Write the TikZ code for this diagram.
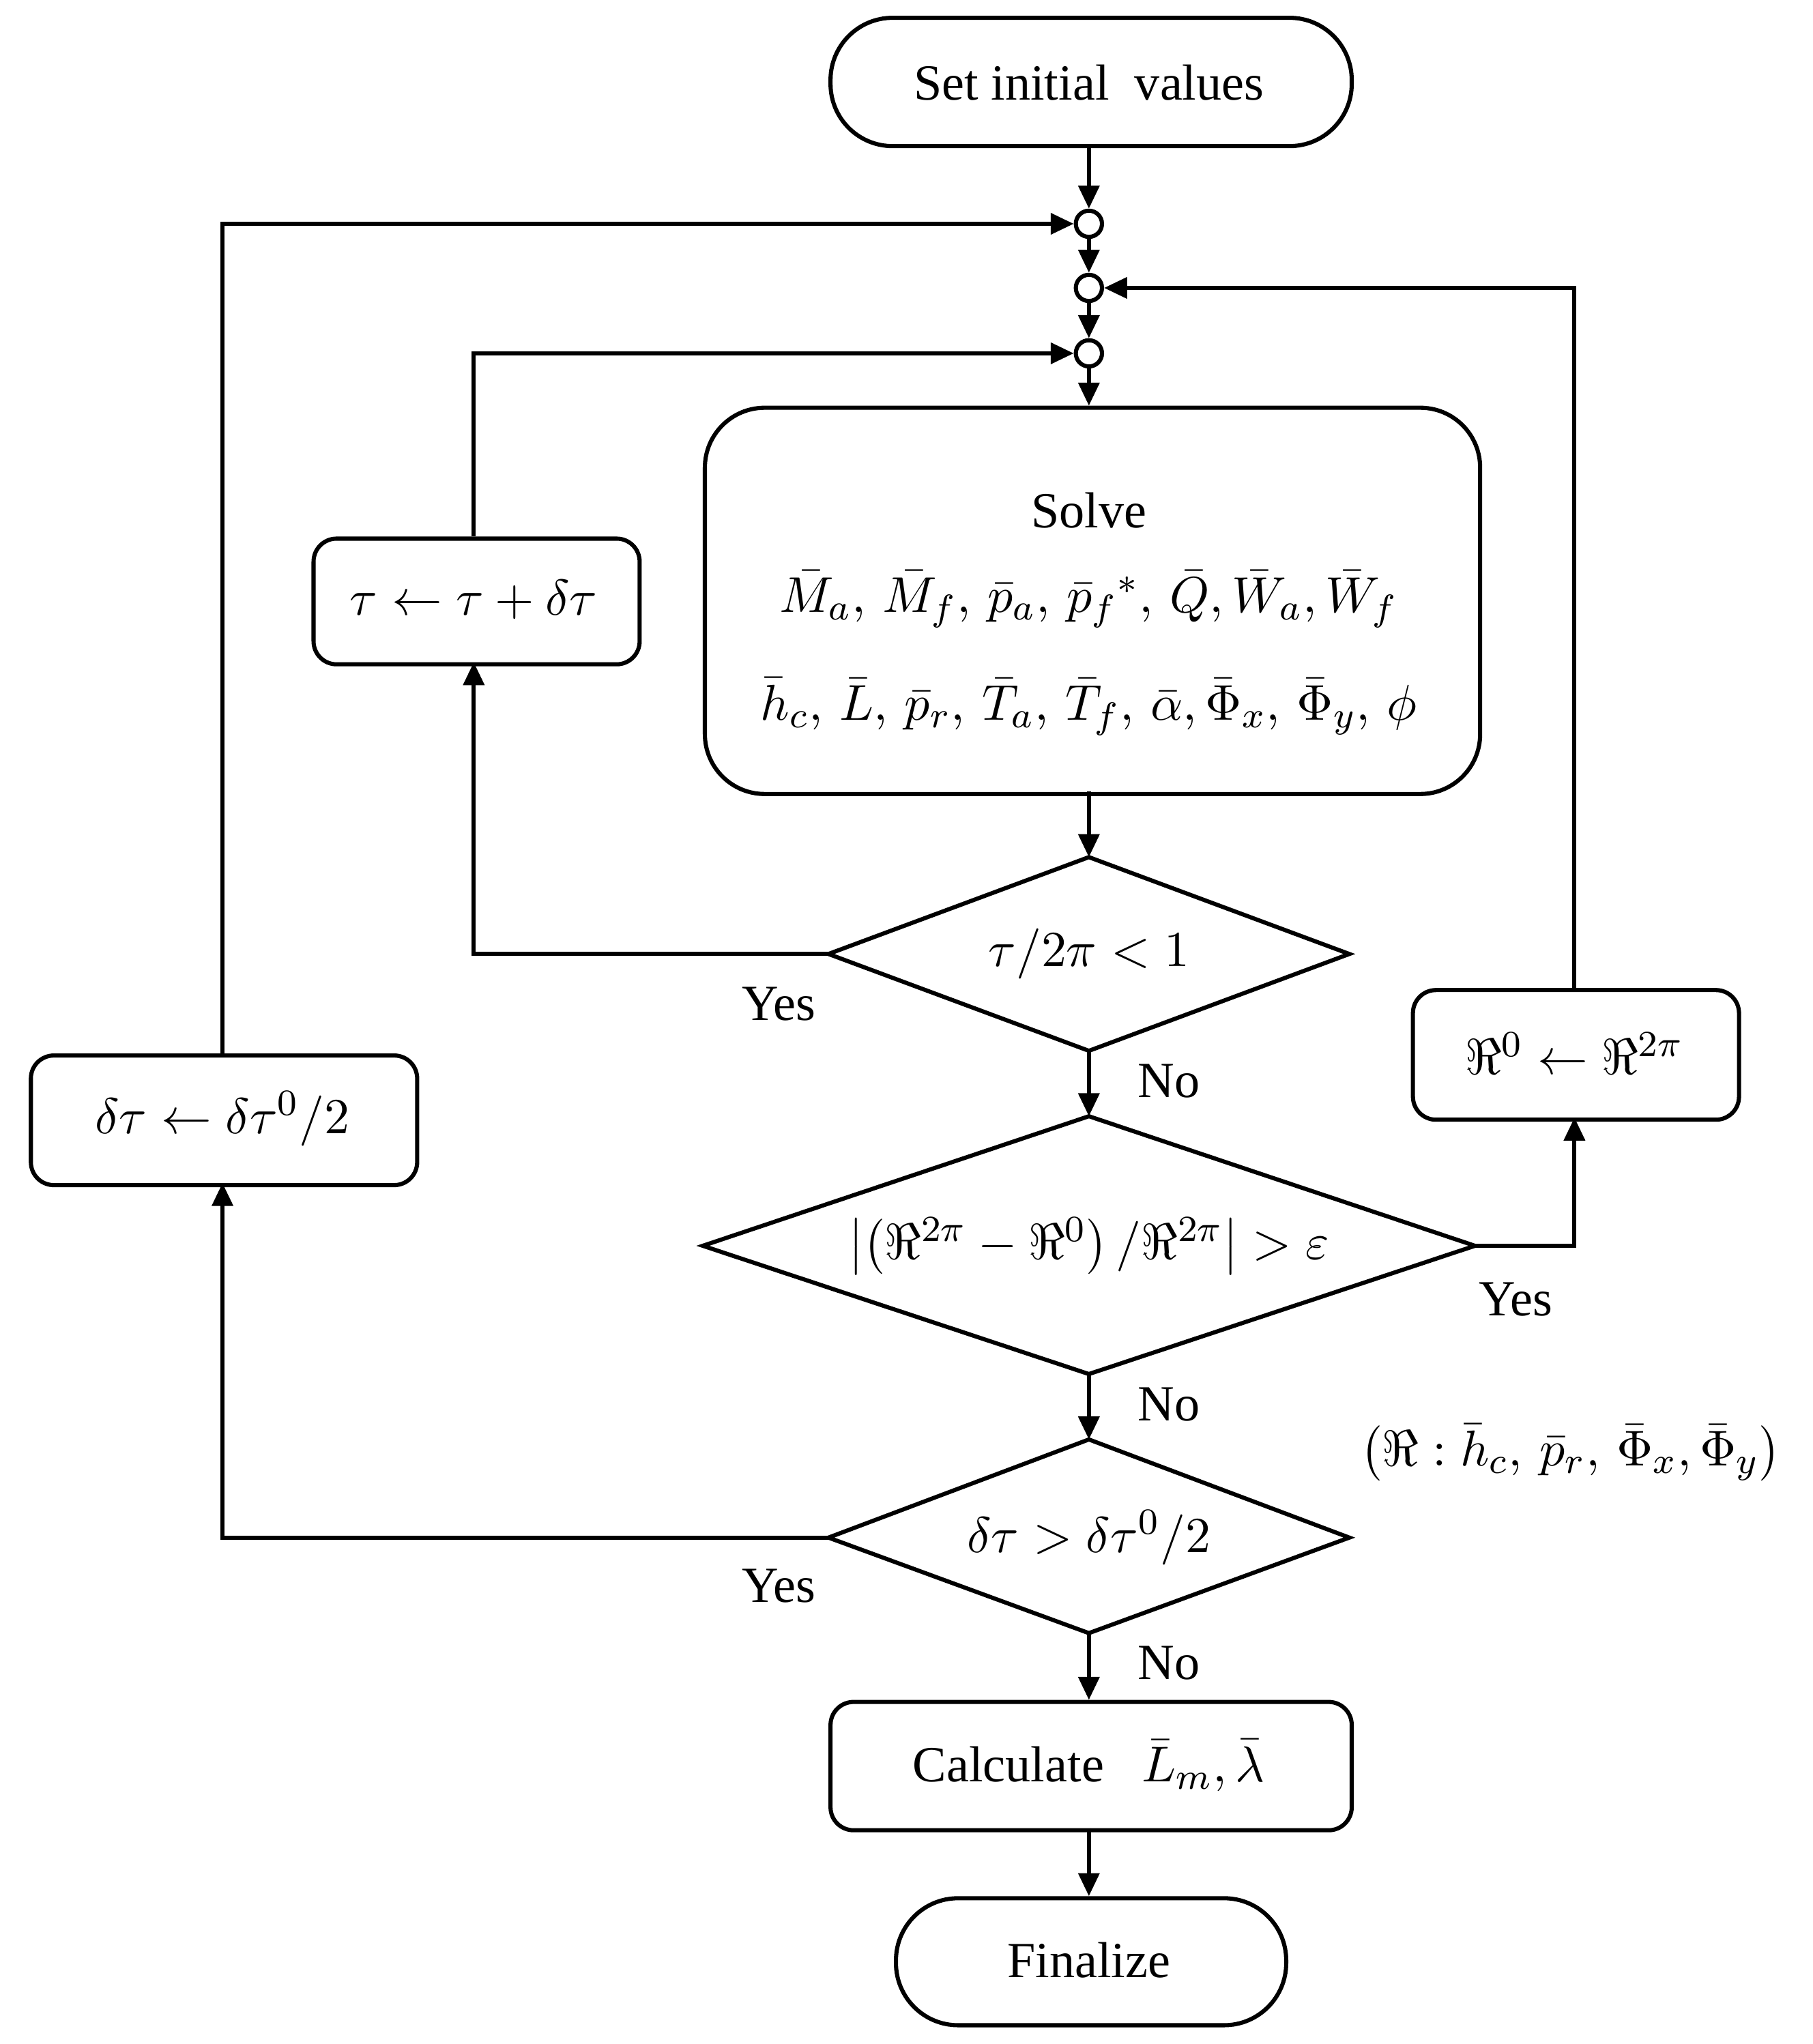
\documentclass[tikz,border=0pt]{standalone}
\usepackage{fontspec}
\setmainfont{Liberation Serif}
\usetikzlibrary{shapes.geometric,arrows.meta}
\begin{document}
\begin{tikzpicture}[x=0.01cm,y=-0.01cm,
 every node/.style={font=\fontsize{11}{13}\selectfont},
 box/.style={draw,line width=0.9pt,rounded corners=5pt,inner sep=0pt,anchor=north west},
 term/.style={draw,line width=0.9pt,rounded corners=13.5pt,inner sep=0pt,anchor=north west},
 circ/.style={draw,circle,line width=0.9pt,minimum size=0.2cm,inner sep=0pt},
 ar/.style={line width=0.9pt,-{Triangle[length=5pt,width=4.5pt]}}]
\useasboundingbox (0,0) rectangle (1385,1562);
\node[term,minimum width=3.98cm,minimum height=0.98cm] (start) at (633,12) {};
\node at (832,63) {Set initial\ \ values};
\node[circ] (c1) at (832,171) {};
\node[circ] (c2) at (832,220) {};
\node[circ] (c3) at (832,270) {};
\node[box,rounded corners=13pt,minimum width=5.92cm,minimum height=2.95cm] (solve) at (537,310) {};
\node at (832,390) {Solve};
\node at (832,458) {$\bar M_a,\,\bar M_f,\,\bar p_a,\,\bar p_f{}^{*},\,\bar Q,\bar W_a,\bar W_f$};
\node at (832,540) {$\bar h_c,\,\bar L,\,\bar p_r,\,\bar T_a,\,\bar T_f,\,\bar\alpha,\bar\Phi_x,\,\bar\Phi_y,\,\phi$};
\draw[line width=0.9pt] (633,729) -- (832,655) -- (1031,729) -- (832,803) -- cycle;
\node at (832,729) {$\tau/2\pi<1$};
\draw[line width=0.9pt] (537,952) -- (832,853) -- (1127,952) -- (832,1050) -- cycle;
\node at (832,952) {$\left|\left(\Re^{2\pi}-\Re^{0}\right)\big/\Re^{2\pi}\right|>\varepsilon$};
\draw[line width=0.9pt] (633,1175) -- (832,1100) -- (1031,1175) -- (832,1248) -- cycle;
\node at (832,1175) {$\delta\tau>\delta\tau^{0}/2$};
\node[box,minimum width=2.49cm,minimum height=0.96cm] (tau) at (238,410) {};
\node at (362,458) {$\tau\leftarrow\tau+\delta\tau$};
\node[box,minimum width=2.49cm,minimum height=0.99cm] (rb) at (1078,755) {};
\node at (1203,805) {$\Re^{0}\leftarrow\Re^{2\pi}$};
\node[box,minimum width=2.95cm,minimum height=0.99cm] (db) at (22,805) {};
\node at (170,855) {$\delta\tau\leftarrow\delta\tau^{0}/2$};
\node[box,minimum width=3.98cm,minimum height=0.98cm] (calc) at (633,1299) {};
\node at (832,1349) {Calculate\ \ \ $\bar L_m,\bar\lambda$};
\node[term,minimum width=2.98cm,minimum height=0.97cm] (fin) at (683,1449) {};
\node at (832,1498) {Finalize};
\node at (1200,1110) {$\left(\Re:\bar h_c,\,\bar p_r,\,\bar\Phi_x,\bar\Phi_y\right)$};
\node at (595,767) {Yes};
\node at (1158,993) {Yes};
\node at (595,1212) {Yes};
\node at (893,826) {No};
\node at (893,1073) {No};
\node at (893,1271) {No};
\draw[ar] (832,110) -- (c1);
\draw[ar] (c1) -- (c2);
\draw[ar] (c2) -- (c3);
\draw[ar] (c3) -- (832,310);
\draw[ar] (832,605) -- (832,655);
\draw[ar] (832,803) -- (832,853);
\draw[ar] (832,1050) -- (832,1100);
\draw[ar] (832,1248) -- (832,1299);
\draw[ar] (832,1397) -- (832,1449);
\draw[ar] (633,729) -- (362,729) -- (362,506);
\draw[ar] (362,410) -- (362,270) -- (c3.west);
\draw[ar] (1127,952) -- (1203,952) -- (1203,854);
\draw[ar] (1203,755) -- (1203,220) -- (c2.east);
\draw[ar] (633,1175) -- (170,1175) -- (170,904);
\draw[ar] (170,805) -- (170,171) -- (c1.west);
\end{tikzpicture}
\end{document}
